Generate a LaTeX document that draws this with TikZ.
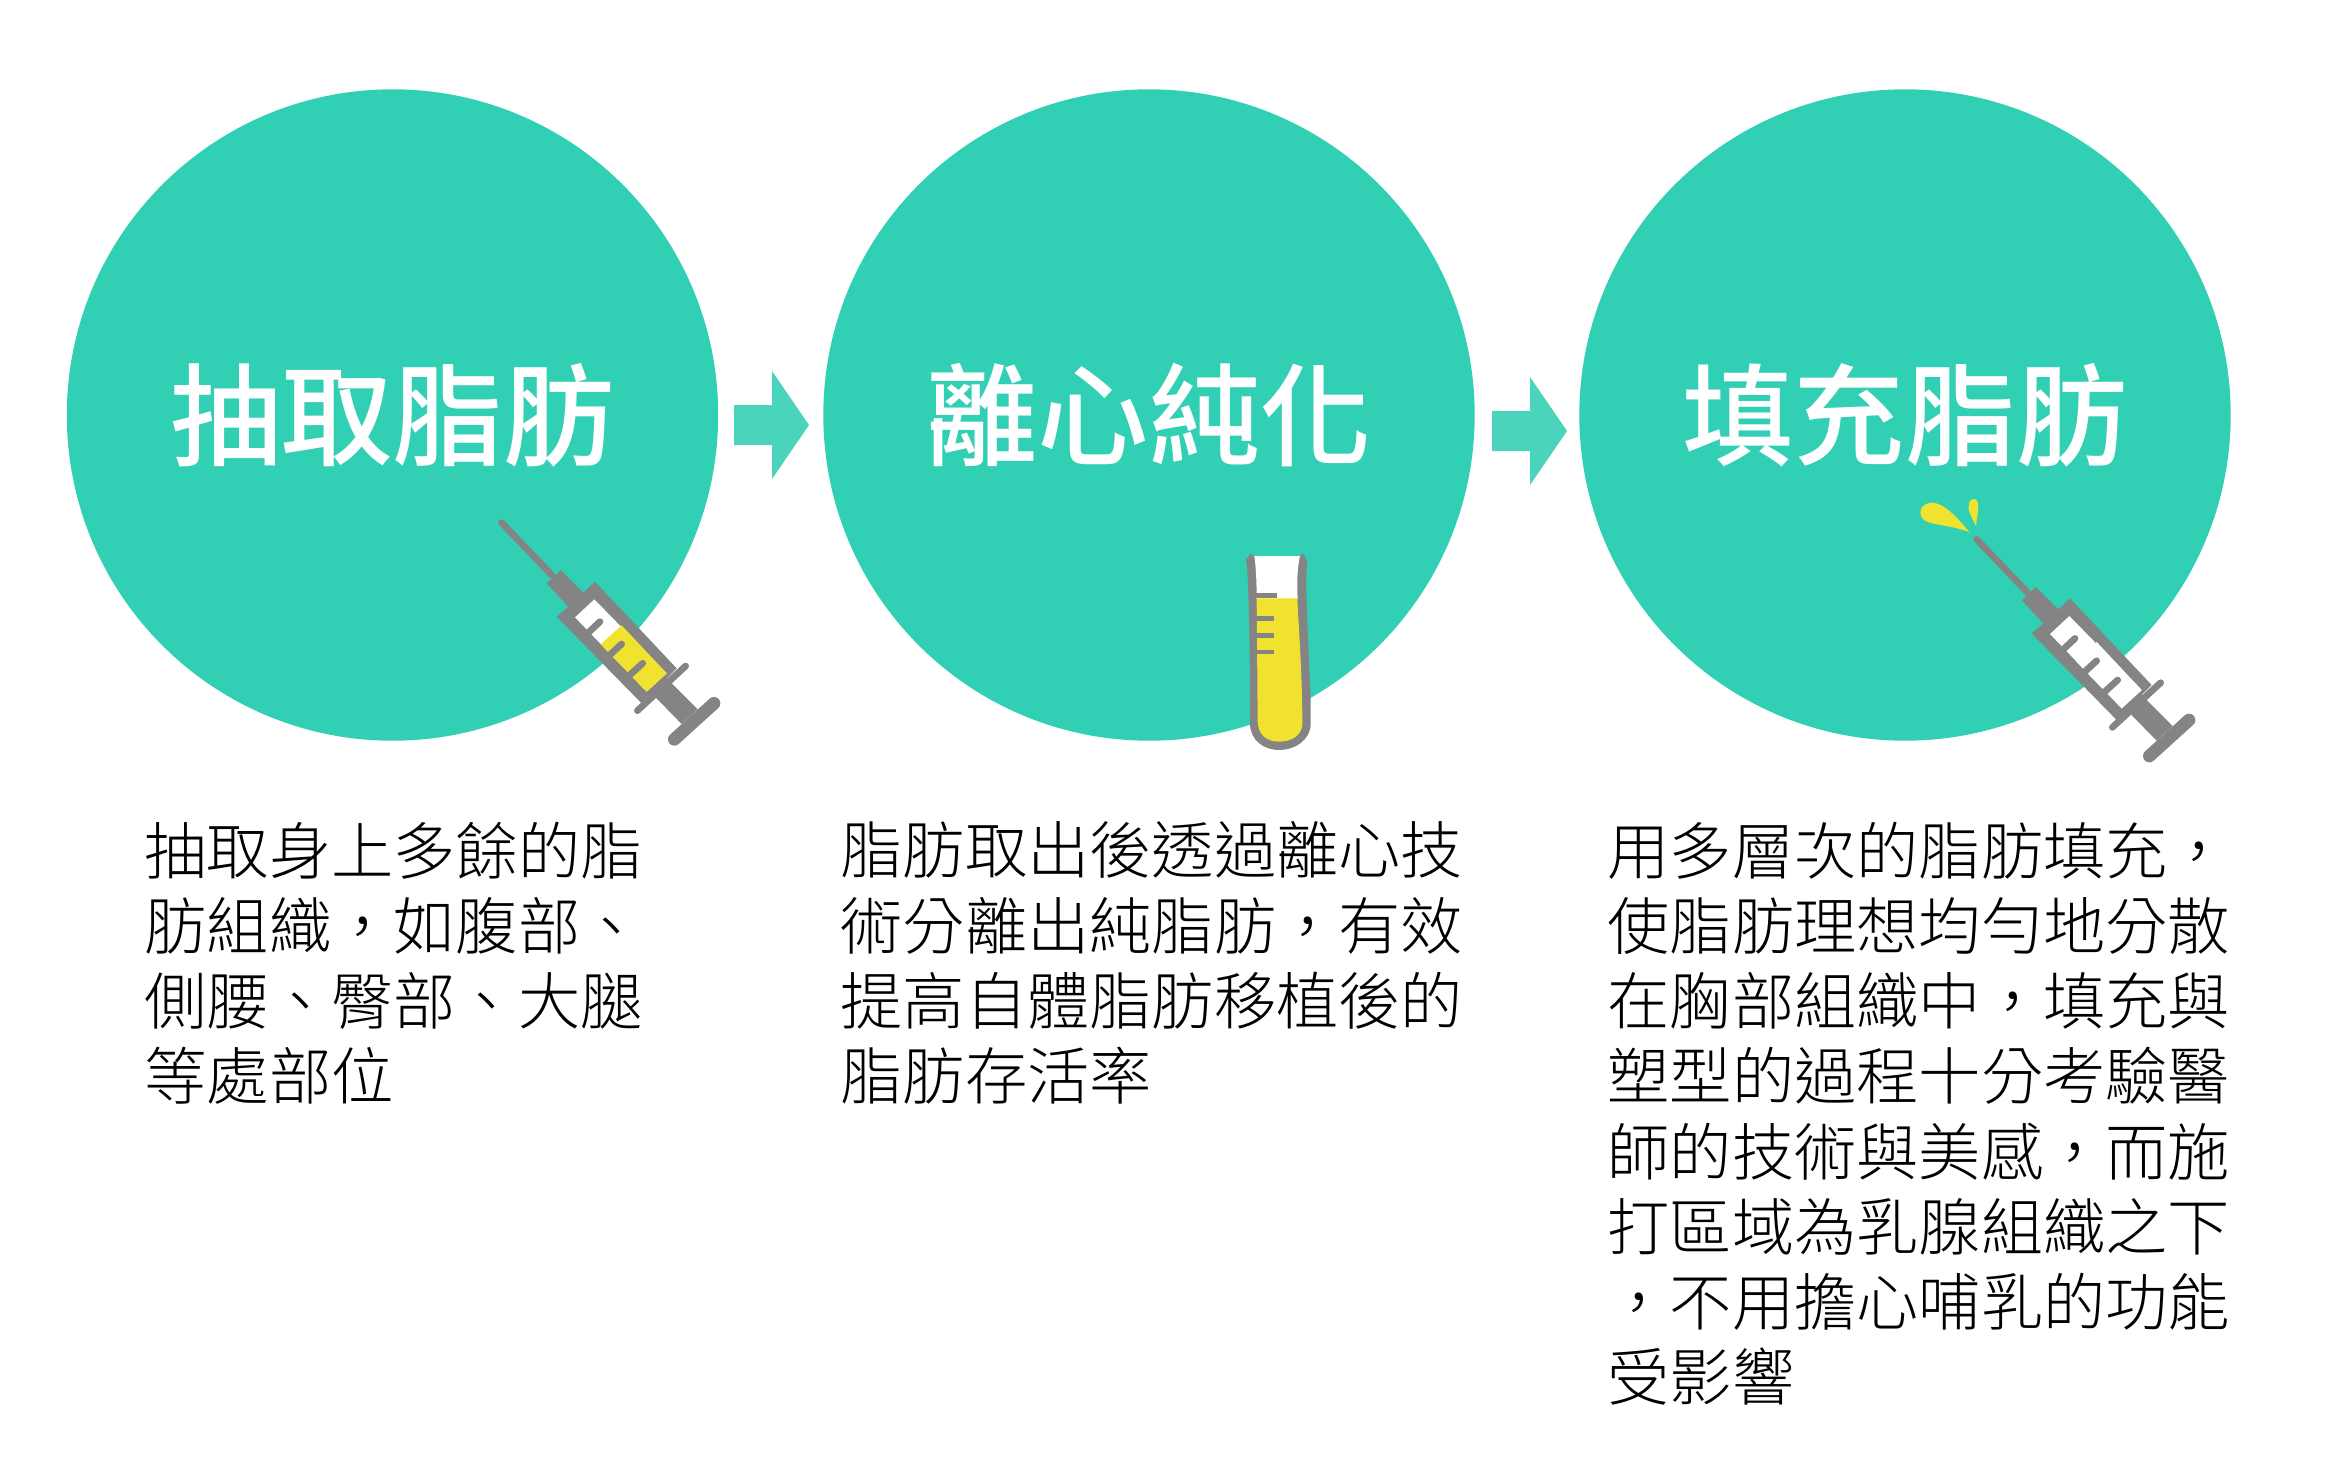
\documentclass[tikz,border=0pt]{standalone}
\usepackage{fontspec}
\setmainfont{Noto Sans CJK TC}[UprightFont=* Light, BoldFont=* Medium]
\definecolor{teal}{HTML}{31CFB4}
\definecolor{arrowteal}{HTML}{4AD4BC}
\definecolor{liquid}{HTML}{F1E22F}
\definecolor{metal}{HTML}{848484}
\tikzset{
    stepcircle/.style={circle, fill=teal, text=white, inner sep=0, minimum size=6.51cm, font=\fontsize{31.6}{36}\selectfont\bfseries},
    bodytext/.style={anchor=north west, inner sep=0, align=left, font=\fontsize{17.7}{21.4}\selectfont},
    flowarrow/.pic={
        \fill[arrowteal] (734,405) -- (772,405) -- (772,371) -- (809,425) -- (772,479) -- (772,445) -- (734,445) -- cycle;
    },
    syringe/.pic={
        \begin{scope}[scale=1/3]
            \draw[metal, line width=0.067cm, line cap=round] (65,68) -- (215,225);
            \fill[metal] (200,250) -- (242,210) -- (310,278) -- (345,245) -- (590,505) -- (485,610) -- (230,350) -- (265,320) -- cycle;
            \draw[metal, line width=0.067cm, line cap=round] (617,498) -- (472,632);
            \fill[metal] (555,530) -- (653,628) -- (605,672) -- (510,575) -- cycle;
            \draw[metal, line width=0.127cm, line cap=round] (702,610) -- (583,718);
            \fill[white] (343,298) -- (560,520) -- (500,575) -- (285,352) -- cycle;
            \fill[#1] (425,376) -- (560,520) -- (500,575) -- (362,433) -- cycle;
            \draw[metal, line width=0.067cm, line cap=round] (360,365) -- (312,410);
            \draw[metal, line width=0.067cm, line cap=round] (425,432) -- (375,478);
            \draw[metal, line width=0.067cm, line cap=round] (488,490) -- (435,538);
        \end{scope}
    }
}
\begin{document}
\begin{tikzpicture}[x=0.01cm, y=-0.01cm]
    \useasboundingbox (0,0) rectangle (2330,1463);

    \node[stepcircle] (extract) at (392.5,415) {抽取脂肪};
    \node[stepcircle] (purify) at (1149,415) {離心純化};
    \node[stepcircle] (inject) at (1905,415) {填充脂肪};

    \pic at (0,0) {flowarrow};
    \pic at (758,6) {flowarrow};

    \pic at (480,500) {syringe=liquid};
    \pic at (1955,516.7) {syringe=white};

    % test tube
    \begin{scope}[shift={(1220,530)}, scale=1/3]
        \fill[metal] (78,88) -- (93,70) -- (103,80) -- (240,80) -- (248,68) -- (262,95) .. controls (255,130) and (262,300) .. (272,500) -- (272,580) .. controls (272,630) and (225,660) .. (178,660) .. controls (130,660) and (90,630) .. (90,580) .. controls (90,300) and (85,130) .. (78,88) -- cycle;
        \fill[white] (103,78) -- (240,78) .. controls (232,110) and (230,160) .. (233,207) -- (110,207) .. controls (110,160) and (108,110) .. (103,78) -- cycle;
        \fill[liquid] (110,205) -- (232,205) .. controls (236,300) and (247,430) .. (247,585) .. controls (245,615) and (215,635) .. (178,635) .. controls (140,635) and (113,615) .. (113,570) -- cycle;
        \fill[metal] (105,190) rectangle (171,204);
        \fill[metal] (105,258) rectangle (163,272);
        \fill[metal] (105,309) rectangle (163,323);
        \fill[metal] (105,359) rectangle (163,373);
    \end{scope}

    % drops
    \begin{scope}[shift={(1900,480)}, scale=1/3]
        \fill[liquid] (208,156) .. controls (170,110) and (130,68) .. (95,68) .. controls (60,70) and (50,105) .. (75,122) .. controls (95,135) and (150,135) .. (208,156) -- cycle;
        \fill[liquid] (228,138) .. controls (215,110) and (200,90) .. (207,70) .. controls (212,52) and (232,52) .. (234,72) .. controls (236,95) and (230,115) .. (228,138) -- cycle;
    \end{scope}

    \node[bodytext] (extracttext) at (144,821) {抽取身上多餘的脂\\肪組織，如腹部、\\側腰、臀部、大腿\\等處部位};
    \node[bodytext] (purifytext) at (840,821) {脂肪取出後透過離心技\\術分離出純脂肪，有效\\提高自體脂肪移植後的\\脂肪存活率};
    \node[bodytext] (injecttext) at (1607,821) {用多層次的脂肪填充，\\使脂肪理想均勻地分散\\在胸部組織中，填充與\\塑型的過程十分考驗醫\\師的技術與美感，而施\\打區域為乳腺組織之下\\，不用擔心哺乳的功能\\受影響};
\end{tikzpicture}
\end{document}
